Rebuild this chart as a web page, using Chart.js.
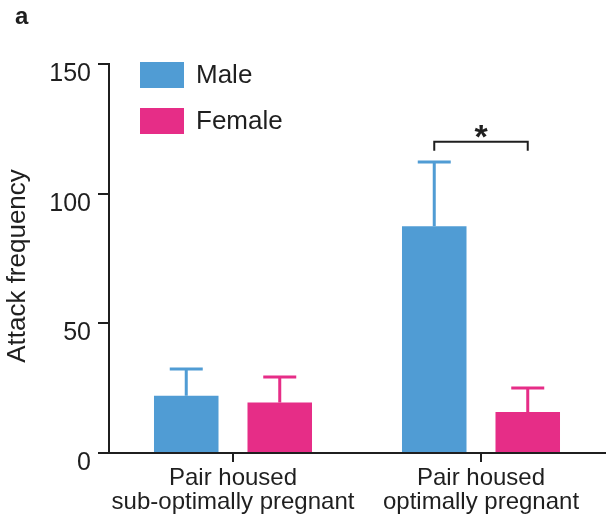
<!DOCTYPE html>
<html lang="en">
  <head>
    <meta charset="UTF-8" />
    <script src="https://cdn.jsdelivr.net/npm/chart.js@4.4.0/dist/chart.umd.min.js"></script>
    <title>Attack frequency</title>
    <style>
      body {
        margin: 0;
        padding: 0;
        background: white;
      }
    </style>
  </head>
  <body>
    <canvas id="chart" width="606" height="519"></canvas>
    <script>
      const categories = [
        ['Pair housed', 'sub-optimally pregnant'],
        ['Pair housed', 'optimally pregnant'],
      ]
      const seriesNames = ['Male', 'Female']
      const maleMeans = [22.1, 87.4]
      const femaleMeans = [19.5, 15.8]
      const maleErr = [10.3, 24.8]
      const femaleErr = [9.8, 9.3]
      const yTicks = [0, 50, 100, 150]
      const bracketLevel = 120

      const blue = '#509cd4'
      const pink = '#e62d87'
      const ink = '#1f1f1f'
      const fontFamily = '"Liberation Sans", Arial, sans-serif'

      // error bars, significance bracket, legend, panel letter, y title
      const extras = {
        id: 'extras',
        afterDatasetsDraw(chart) {
          const ctx = chart.ctx
          const y = chart.scales.y
          ctx.save()
          chart.data.datasets.forEach((ds, i) => {
            const meta = chart.getDatasetMeta(i)
            meta.data.forEach((bar, j) => {
              const top = y.getPixelForValue(ds.data[j] + ds.errors[j])
              ctx.strokeStyle = ds.backgroundColor
              ctx.lineWidth = 3
              ctx.beginPath()
              ctx.moveTo(bar.x, bar.y)
              ctx.lineTo(bar.x, top)
              ctx.moveTo(bar.x - 16.5, top)
              ctx.lineTo(bar.x + 16.5, top)
              ctx.stroke()
            })
          })

          // bracket between the two bars of the second group
          const a = chart.getDatasetMeta(0).data[1]
          const b = chart.getDatasetMeta(1).data[1]
          const by = y.getPixelForValue(bracketLevel)
          ctx.strokeStyle = ink
          ctx.lineWidth = 2
          ctx.beginPath()
          ctx.moveTo(a.x, by + 9)
          ctx.lineTo(a.x, by)
          ctx.lineTo(b.x, by)
          ctx.lineTo(b.x, by + 9)
          ctx.stroke()
          ctx.fillStyle = ink
          ctx.font = 'bold 34px ' + fontFamily
          ctx.textAlign = 'center'
          ctx.textBaseline = 'alphabetic'
          ctx.fillText('*', (a.x + b.x) / 2, by + 6)

          // legend
          ctx.font = '26px ' + fontFamily
          ctx.textAlign = 'left'
          ctx.textBaseline = 'middle'
          chart.data.datasets.forEach((ds, i) => {
            const top = 62 + i * 46
            ctx.fillStyle = ds.backgroundColor
            ctx.fillRect(140, top, 44, 26)
            ctx.fillStyle = ink
            ctx.fillText(ds.label, 196, top + 14)
          })

          // panel letter
          ctx.font = 'bold 24px ' + fontFamily
          ctx.fillText('a', 15, 17)

          // y axis title
          ctx.translate(18, 266)
          ctx.rotate(-Math.PI / 2)
          ctx.textAlign = 'center'
          ctx.font = '26px ' + fontFamily
          ctx.fillText('Attack frequency', 0, 0)
          ctx.restore()
        },
      }

      new Chart(document.getElementById('chart'), {
        type: 'bar',
        data: {
          labels: categories,
          datasets: [
            {
              label: seriesNames[0],
              data: maleMeans,
              errors: maleErr,
              backgroundColor: blue,
            },
            {
              label: seriesNames[1],
              data: femaleMeans,
              errors: femaleErr,
              backgroundColor: pink,
            },
          ],
        },
        plugins: [extras],
        options: {
          responsive: false,
          animation: false,
          categoryPercentage: 0.754,
          barPercentage: 0.69,
          layout: {
            padding: { top: 64, right: 1, left: 0, bottom: 0 },
          },
          plugins: {
            legend: { display: false },
            tooltip: { enabled: false },
          },
          scales: {
            x: {
              afterFit: (scale) => {
                scale.height = 66
              },
              border: { color: ink, width: 2 },
              grid: {
                offset: false,
                drawOnChartArea: false,
                tickLength: 9,
                color: ink,
                lineWidth: 2,
              },
              ticks: {
                color: ink,
                padding: 4,
                maxRotation: 0,
                font: { family: fontFamily, size: 24, lineHeight: 1.0 },
              },
            },
            y: {
              min: 0,
              max: 150,
              afterFit: (scale) => {
                scale.width = 109
              },
              afterBuildTicks: (scale) => {
                scale.ticks = yTicks.map((v) => ({ value: v }))
              },
              border: { color: ink, width: 2 },
              grid: {
                drawOnChartArea: false,
                tickLength: 11,
                color: ink,
                lineWidth: 2,
              },
              ticks: {
                color: ink,
                padding: 7,
                labelOffset: 10,
                font: { family: fontFamily, size: 25 },
              },
            },
          },
        },
      })
    </script>
  </body>
</html>
